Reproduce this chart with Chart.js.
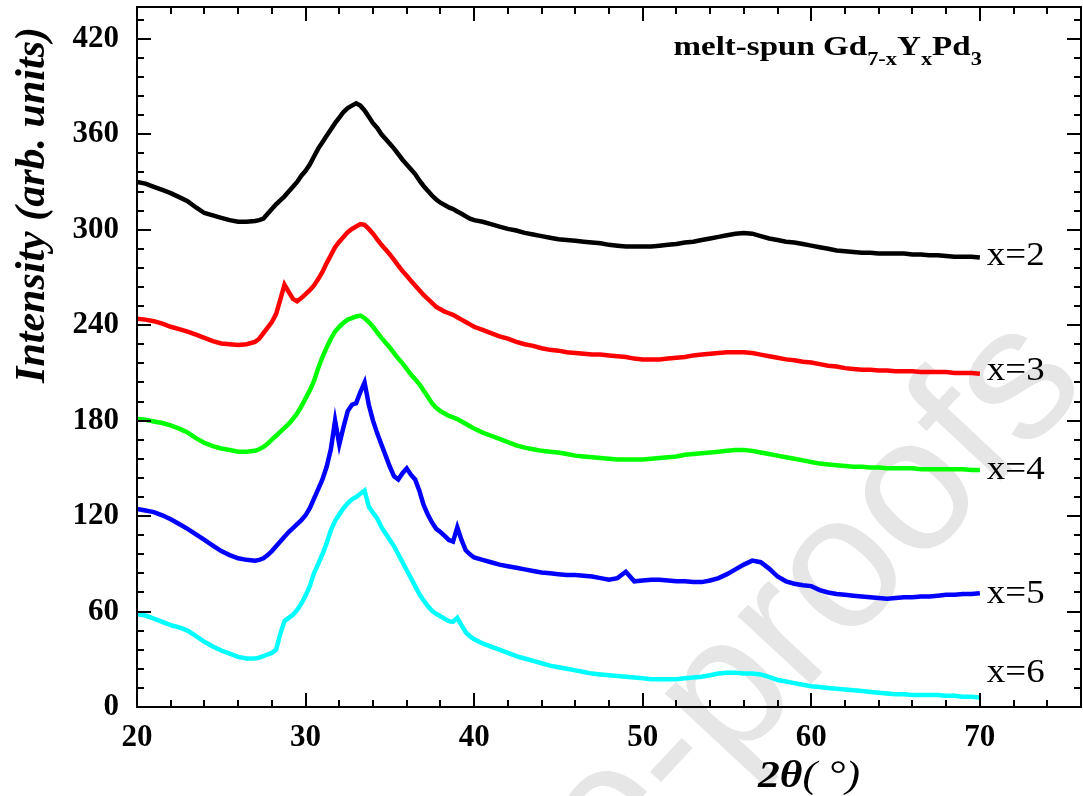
<!DOCTYPE html>
<html>
<head>
<meta charset="utf-8">
<title>melt-spun Gd7-xYxPd3 XRD</title>
<script src="https://cdn.jsdelivr.net/npm/chart.js@4.4.1/dist/chart.umd.min.js"></script>
<style>
  html, body { margin: 0; padding: 0; background: #ffffff; }
  canvas { display: block; }
</style>
</head>
<body>
<canvas id="xrd" width="1083" height="796"></canvas>
<script>
// Diffraction angle 2θ (degrees); finer sampling across the main halo region
const angles = [
  20, 20.5, 21, 21.5, 22, 22.5, 23, 23.5, 24, 24.5, 25, 25.5, 26, 26.5,
  27, 27.25, 27.5, 27.75, 28, 28.25, 28.5, 28.75, 29, 29.25, 29.5, 29.75,
  30, 30.25, 30.5, 30.75, 31, 31.25, 31.5, 31.75, 32, 32.25, 32.5, 32.75,
  33, 33.25, 33.5, 33.75, 34, 34.25, 34.5, 34.75, 35, 35.25, 35.5, 35.75,
  36, 36.25, 36.5, 36.75, 37, 37.25, 37.5, 37.75, 38, 38.25, 38.5, 38.75,
  39, 39.25, 39.5, 39.75, 40,
  40.5, 41, 41.5, 42, 42.5, 43, 43.5, 44, 44.5, 45,
  45.5, 46, 46.5, 47, 47.5, 48, 48.5, 49, 49.5, 50,
  50.5, 51, 51.5, 52, 52.5, 53, 53.5, 54, 54.5, 55,
  55.5, 56, 56.5, 57, 57.5, 58, 58.5, 59, 59.5, 60,
  60.5, 61, 61.5, 62, 62.5, 63, 63.5, 64, 64.5, 65,
  65.5, 66, 66.5, 67, 67.5, 68, 68.5, 69, 69.5, 70
];

// Offset intensity traces (arb. units), one per composition
const intensityX2 = [
  330, 329, 327, 325, 323, 320.5, 318, 314, 310.5, 309, 307.5, 306, 305, 305,
  305.5, 306, 307, 310, 313, 316, 318.5, 321, 324, 327, 330, 334,
  337, 341, 346, 351, 355, 359, 363, 367, 370.5, 374, 376.5, 378,
  379.5, 378, 375, 371, 367, 364, 360, 357, 354, 351, 347.5, 344,
  341, 338, 335, 331, 327.5, 324.5, 321.5, 319, 317, 315.5, 314, 313,
  311.5, 310, 308.5, 307, 306,
  305, 303.5, 302, 300.5, 299.5, 298, 297, 296, 295, 294,
  293.5, 293, 292.5, 292, 291.5, 290.5, 290, 289.5, 289.5, 289.5,
  289.5, 290, 290.5, 291, 292, 292.5, 293.5, 294.5, 295.5, 296.5,
  297.5, 298, 297.5, 296, 294.5, 293.5, 292.5, 292, 291, 290,
  289, 288, 287, 286.5, 286, 285.5, 285.5, 285, 285, 285,
  285, 284.5, 284.5, 284, 284, 283.5, 283, 283, 283, 282.5
];
const intensityX3 = [
  244, 243.5, 242.5, 241, 239, 237.5, 236, 234, 232, 230, 228.5, 228, 227.5, 228,
  229.5, 231.5, 235, 238.5, 242, 247, 256, 265.5, 261, 256.5, 255, 257,
  259.5, 262, 265, 269, 273.5, 279, 284, 289, 292.5, 295.5, 298.5, 300.5,
  302, 303.5, 303, 300.5, 297.5, 294, 290.5, 287.5, 284.5, 281, 277.5, 274,
  271, 268, 265, 262, 259, 256.5, 254, 251.5, 250, 248.5, 247.5, 246.5,
  245, 243.5, 242, 240.5, 239,
  237, 235, 233, 231.5, 229.5, 228, 227, 225.5, 224.5, 224,
  223, 222.5, 222, 221.5, 221.5, 221, 220.5, 220, 219, 218.5,
  218.5, 218.5, 219, 219.5, 220, 221, 221.5, 222, 222.5, 223,
  223, 223, 222.5, 221.5, 220.5, 219.5, 218.5, 218, 217, 216.5,
  215.5, 214.5, 214, 213, 212.5, 212, 212, 211.5, 211.5, 211,
  211, 211, 210.5, 210.5, 210.5, 210.5, 210, 210, 210, 209.5
];
const intensityX4 = [
  181, 180.5, 179.5, 178.5, 177, 175, 172.5, 169, 166, 164, 162.5, 161.5, 160.5, 160.5,
  161, 162, 163.5, 165.5, 168, 170.5, 173, 175.5, 178, 181, 184.5, 189,
  194, 199, 205, 213, 220, 226, 231.5, 236, 239, 241.5, 243.5, 244.5,
  245.5, 246, 244.5, 242, 239, 235.5, 232, 229, 226, 222.5, 219, 216,
  212.5, 209, 206, 203, 199, 195, 191, 188, 186, 184.5, 183, 182,
  181, 179.5, 178, 176.5, 175,
  172.5, 170.5, 168.5, 166.5, 164.5, 163, 162, 161, 160.5, 160,
  159, 158, 157.5, 157, 156.5, 156, 155.5, 155.5, 155.5, 155.5,
  156, 156.5, 157, 157.5, 158.5, 159, 159.5, 160, 160.5, 161,
  161.5, 161.5, 161, 160, 159, 158, 157, 156, 155, 154,
  153, 152.5, 152, 151.5, 151, 151, 150.5, 150.5, 150, 150,
  150, 150, 149.5, 149.5, 149.5, 149.5, 149.5, 149.5, 149, 149
];
const intensityX5 = [
  124.5, 123.5, 122.5, 120.5, 118, 115, 112, 108.5, 105, 101.5, 98, 95.5, 93.5, 92.5,
  92, 92.5, 93.5, 95.5, 98, 101, 104, 107, 110, 112.5, 115, 117.5,
  120.5, 125, 131, 137, 143, 151, 162, 180, 165, 176, 186, 190,
  191, 198, 204, 190, 180, 172, 165, 158, 151, 145, 143, 147,
  150, 146, 143, 136, 127, 121, 116, 112, 110, 107.5, 105, 104,
  113, 105, 98.5, 96, 94,
  92.5, 91, 89.5, 88.5, 87.5, 86.5, 85.5, 84.5, 84, 83.5,
  83, 83, 82.5, 82, 81, 80, 81, 85, 79, 79.5,
  80, 80, 79.5, 79, 79, 78.5, 78.5, 79.5, 81, 83.5,
  86.5, 89.5, 92, 91, 87, 82, 79, 77.5, 76.5, 76,
  73.5, 72, 71, 70.5, 70, 69.5, 69, 68.5, 68, 68.5,
  69, 69, 69.5, 69.5, 70, 70.5, 70.5, 71, 71, 71.5
];
const intensityX6 = [
  58.5, 57.5, 55.5, 53.5, 51.5, 50, 48, 44.5, 41, 38, 35.5, 33.5, 31.5, 30.5,
  30.5, 31, 32, 33, 34, 36, 46, 54, 56, 58, 61, 65,
  70, 76, 84, 90, 96, 103, 111, 117, 121, 125, 128, 130.5,
  132, 134, 136, 126, 122, 118.5, 113, 109, 105, 101, 96, 91,
  86, 81, 76, 71, 67, 63.5, 60.5, 58.5, 57, 55.5, 54, 53.5,
  56, 51.5, 47, 44.5, 42.5,
  40, 38, 36, 34, 32, 30.5, 29, 27.5, 26, 25,
  24, 23, 22, 21, 20.5, 20, 19.5, 19, 18.5, 18,
  17.5, 17.5, 17.5, 17.5, 18, 18.5, 19, 20, 21, 21.5,
  21.5, 21, 21, 20.5, 19, 17, 16, 15, 14, 13,
  12.5, 12, 11.5, 11, 10.5, 10, 9.5, 9, 8.5, 8,
  8, 7.5, 7.5, 7.5, 7.5, 7, 7, 6.5, 6.5, 6
];

const seriesNames = ['x=2', 'x=3', 'x=4', 'x=5', 'x=6'];
const seriesColors = ['#000000', '#ff0000', '#00ff00', '#0000ff', '#00ffff'];
// intensity level beside which each composition tag sits
const labelLevels = [283, 211, 149, 71, 21];

const xTickLabels = [20, 30, 40, 50, 60, 70];
const yTickLabels = [0, 60, 120, 180, 240, 300, 360, 420];

const SERIF = "'Liberation Serif', 'Times New Roman', serif";
const SANS = "'Liberation Sans', Arial, sans-serif";
const WIDE = 1.18; // horizontal stretch of the lettering

const traces = [intensityX2, intensityX3, intensityX4, intensityX5, intensityX6];

const datasets = traces.map((vals, i) => ({
  label: seriesNames[i],
  data: angles.map((a, k) => ({ x: a, y: vals[k] })),
  borderColor: seriesColors[i],
  backgroundColor: seriesColors[i],
  borderWidth: 4.5,
  pointRadius: 0,
  tension: 0,
  fill: false
}));

function wideText(ctx, text, x, y, sx) {
  ctx.save();
  ctx.translate(x, y);
  ctx.scale(sx, 1);
  ctx.fillText(text, 0, 0);
  ctx.restore();
}

// Faint diagonal page stamp behind the plot
const stampPlugin = {
  id: 'stamp',
  beforeDraw(chart) {
    const ctx = chart.ctx;
    ctx.save();
    ctx.fillStyle = '#ffffff';
    ctx.fillRect(0, 0, chart.width, chart.height);
    ctx.translate(1090, 385);
    ctx.rotate(-47 * Math.PI / 180);
    ctx.font = '190px ' + SANS;
    ctx.fillStyle = '#e6e6e6';
    ctx.textAlign = 'right';
    ctx.textBaseline = 'alphabetic';
    ctx.fillText('Journal Pre-proofs', 0, 0);
    ctx.restore();
  }
};

// Frame, inward tick marks, composition tags and axis titles
const decorPlugin = {
  id: 'decor',
  afterDraw(chart) {
    const ctx = chart.ctx;
    const a = chart.chartArea;
    const xs = chart.scales.x;
    const ys = chart.scales.y;
    ctx.save();
    ctx.strokeStyle = '#000';
    ctx.lineWidth = 2;
    ctx.strokeRect(a.left, a.top, a.right - a.left, a.bottom - a.top);

    ctx.beginPath();
    for (let v = 20; v <= 76; v += 2) {
      const px = Math.round(xs.getPixelForValue(v));
      const len = (v % 10 === 0) ? 14 : 7;
      ctx.moveTo(px, a.bottom); ctx.lineTo(px, a.bottom - len);
      ctx.moveTo(px, a.top); ctx.lineTo(px, a.top + len);
    }
    for (let v = 0; v <= 440; v += 12) {
      const py = Math.round(ys.getPixelForValue(v));
      const len = (v % 60 === 0) ? 14 : 7;
      ctx.moveTo(a.left, py); ctx.lineTo(a.left + len, py);
      ctx.moveTo(a.right, py); ctx.lineTo(a.right - len, py);
    }
    ctx.stroke();

    ctx.fillStyle = '#000';

    // composition tags
    ctx.font = '33px ' + SERIF;
    ctx.textAlign = 'left';
    ctx.textBaseline = 'middle';
    const tagX = xs.getPixelForValue(70) + 7;
    seriesNames.forEach((name, i) => {
      wideText(ctx, name, tagX, ys.getPixelForValue(labelLevels[i]), 1.12);
    });

    // panel title with subscripts
    const parts = [
      ['melt-spun Gd', false], ['7-x', true], ['Y', false], ['x', true], ['Pd', false], ['3', true]
    ];
    const mainFont = 'bold 28px ' + SERIF;
    const subFont = 'bold 19px ' + SERIF;
    let total = 0;
    parts.forEach(([t, sub]) => { ctx.font = sub ? subFont : mainFont; total += ctx.measureText(t).width; });
    let tx = xs.getPixelForValue(70) + 2 - total * WIDE;
    const tBase = a.top + 48;
    ctx.textAlign = 'left';
    ctx.textBaseline = 'alphabetic';
    parts.forEach(([t, sub]) => {
      ctx.font = sub ? subFont : mainFont;
      wideText(ctx, t, tx, sub ? tBase + 10 : tBase, WIDE);
      tx += ctx.measureText(t).width * WIDE;
    });

    // y axis title
    ctx.save();
    ctx.translate(33, 205);
    ctx.rotate(-Math.PI / 2);
    ctx.font = 'italic bold 42px ' + SERIF;
    ctx.textAlign = 'center';
    ctx.textBaseline = 'middle';
    ctx.fillText('Intensity (arb. units)', 0, 0);
    ctx.restore();

    // x axis title
    const p1 = '2\u03B8', p2 = '( \u00B0)';
    ctx.font = 'italic bold 37px ' + SERIF;
    const w1 = ctx.measureText(p1).width * WIDE;
    ctx.font = 'italic 37px ' + SERIF;
    const w2 = ctx.measureText(p2).width * WIDE;
    const xx = 809 - (w1 + w2) / 2;
    ctx.textAlign = 'left';
    ctx.textBaseline = 'alphabetic';
    ctx.font = 'italic bold 37px ' + SERIF;
    wideText(ctx, p1, xx, 787, WIDE);
    ctx.font = 'italic 37px ' + SERIF;
    wideText(ctx, p2, xx + w1, 787, WIDE);
    ctx.restore();
  }
};

new Chart(document.getElementById('xrd'), {
  type: 'line',
  data: { datasets },
  options: {
    responsive: false,
    animation: false,
    devicePixelRatio: 1,
    layout: { padding: { top: 7, right: 2, left: 0, bottom: 0 } },
    plugins: { legend: { display: false }, tooltip: { enabled: false } },
    scales: {
      x: {
        type: 'linear',
        min: 20,
        max: 76,
        grid: { display: false, drawTicks: false },
        border: { display: false },
        afterBuildTicks: s => { s.ticks = xTickLabels.map(v => ({ value: v })); },
        afterFit: s => { s.height = 89; s.paddingLeft = 0; s.paddingRight = 0; },
        ticks: {
          font: { family: SERIF, weight: 'bold', size: 31 },
          color: '#000',
          padding: 12,
          maxRotation: 0,
          autoSkip: false
        }
      },
      y: {
        type: 'linear',
        min: 0,
        max: 440,
        grid: { display: false, drawTicks: false },
        border: { display: false },
        afterBuildTicks: s => { s.ticks = yTickLabels.map(v => ({ value: v })); },
        afterFit: s => { s.width = 137; s.paddingTop = 0; s.paddingBottom = 0; },
        ticks: {
          font: { family: SERIF, weight: 'bold', size: 31 },
          color: '#000',
          padding: 18,
          autoSkip: false
        }
      }
    }
  },
  plugins: [stampPlugin, decorPlugin]
});
</script>
</body>
</html>
